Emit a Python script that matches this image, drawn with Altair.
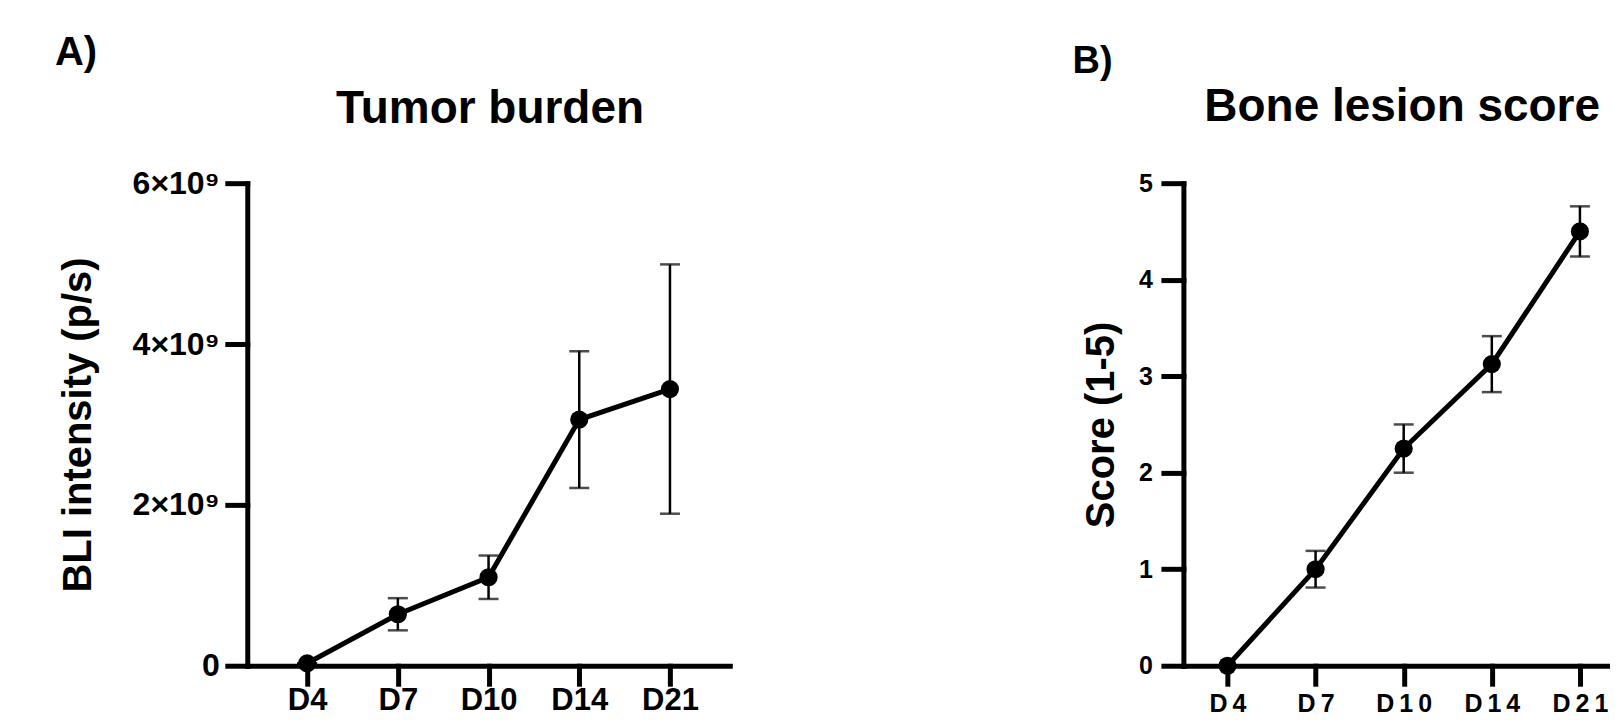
import altair as alt
import pandas as pd

# ---- data ----
days = ["D4", "D7", "D10", "D14", "D21"]

bli_mean = [0.03e9, 0.64e9, 1.10e9, 3.06e9, 3.44e9]
bli_sem = [0.0, 0.20e9, 0.27e9, 0.85e9, 1.55e9]
bli_ticks = [0, 2e9, 4e9, 6e9]

score_mean = [0.0, 1.0, 2.25, 3.125, 4.5]
score_sem = [0.0, 0.19, 0.25, 0.29, 0.26]
score_ticks = [0, 1, 2, 3, 4, 5]

FONT = "Liberation Sans"

dfA = pd.DataFrame({
    "day": days,
    "mean": bli_mean,
    "lo": [m - s for m, s in zip(bli_mean, bli_sem)],
    "hi": [m + s for m, s in zip(bli_mean, bli_sem)],
})
dfB = pd.DataFrame({
    "day": days,
    "mean": score_mean,
    "lo": [m - s for m, s in zip(score_mean, score_sem)],
    "hi": [m + s for m, s in zip(score_mean, score_sem)],
})


def axis_common(**kw):
    base = dict(
        grid=False,
        domainColor="black", domainWidth=5, domainCap="square",
        tickColor="black", tickWidth=5, tickSize=20, tickCap="square",
        labelColor="black", labelFont=FONT, labelFontWeight="bold",
        titleColor="black", titleFont=FONT, titleFontWeight="bold",
    )
    base.update(kw)
    return alt.Axis(**base)


def panel(df, width, height, pad, ydomain, xaxis, yaxis,
          letter, letter_size, letter_xy, title, title_xy):
    x = alt.X("day:N", sort=days, scale=alt.Scale(type="point", padding=pad), axis=xaxis)
    yscale = alt.Scale(domain=ydomain, nice=False, zero=True)
    base = alt.Chart(df)
    err = base.mark_rule(color="black", strokeWidth=2.5).encode(
        x=x, y=alt.Y("lo:Q", scale=yscale, axis=yaxis), y2="hi:Q")
    cap_hi = base.mark_tick(color="black", thickness=2.5, size=20).encode(
        x=x, y=alt.Y("hi:Q", scale=yscale))
    cap_lo = base.mark_tick(color="black", thickness=2.5, size=20).encode(
        x=x, y=alt.Y("lo:Q", scale=yscale))
    line = base.mark_line(color="black", strokeWidth=5).encode(
        x=x, y=alt.Y("mean:Q", scale=yscale))
    pts = base.mark_point(filled=True, color="black", opacity=1, size=330).encode(
        x=x, y=alt.Y("mean:Q", scale=yscale))
    lab = alt.Chart(pd.DataFrame({"t": [letter]})).mark_text(
        font=FONT, fontWeight="bold", fontSize=letter_size, align="left",
        baseline="alphabetic", color="black").encode(
        x=alt.value(letter_xy[0]), y=alt.value(letter_xy[1]), text="t:N")
    ttl = alt.Chart(pd.DataFrame({"t": [title]})).mark_text(
        font=FONT, fontWeight="bold", fontSize=46, align="center",
        baseline="alphabetic", color="black").encode(
        x=alt.value(title_xy[0]), y=alt.value(title_xy[1]), text="t:N")
    return alt.layer(err, cap_hi, cap_lo, line, pts, lab, ttl).properties(
        width=width, height=height)


xaxisA = axis_common(title=None, labelAngle=0, labelFontSize=31,
                     tickSize=18, labelPadding=2)
yaxisA = axis_common(
    title="BLI intensity (p/s)", values=bli_ticks,
    labelExpr="datum.value == 0 ? '0' : format(datum.value / 1e9, 'd') + '\u00d710\u2079'",
    labelFontSize=32, labelPadding=8,
    titleFontSize=40, titleX=-157, titleBaseline="alphabetic")

xaxisB = axis_common(
    title=None, labelAngle=0, labelFontSize=25, tickSize=18, labelPadding=8,
    labelExpr="replace(datum.label, regexp('(.)(?=.)', 'g'), '$1\u2009')")
yaxisB = axis_common(
    title="Score (1-5)", values=score_ticks, format="d",
    labelFontSize=25, labelPadding=11,
    titleFontSize=40, titleX=-70, titleBaseline="alphabetic")

A = panel(dfA, 483, 483, 0.66, [0, 6e9], xaxisA, yaxisA,
          "A)", 40, (-192.5, -118), "Tumor burden", (243, -60.5))
B = panel(dfB, 441, 483, 0.5, [0, 5], xaxisB, yaxisB,
          "B)", 38, (-111, -110.5), "Bone lesion score", (219, -62))

chart = alt.hconcat(A, B, spacing=343).properties(
    padding={"left": 46.5, "top": 25, "right": -14, "bottom": 0},
    background="white",
).configure_view(stroke=None)

chart.save("out.html", embed_options={"renderer": "svg", "actions": False})
